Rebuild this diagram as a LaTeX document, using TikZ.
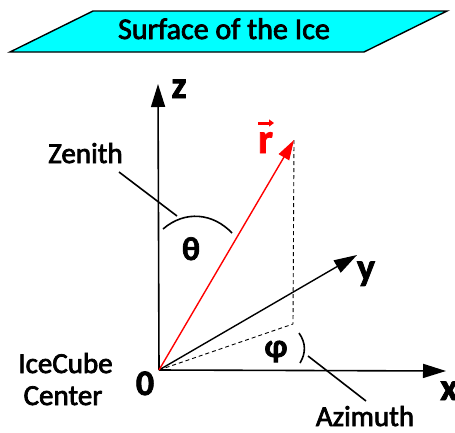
\documentclass[tikz,border=0pt]{standalone}
\usepackage{fontspec}
\setmainfont{Carlito}
\newfontfamily\heavy{Carlito}[FakeBold=2.5]
\newfontfamily\heavybf{Carlito Bold}[FakeBold=2]
\usetikzlibrary{arrows.meta}
\definecolor{icecyan}{RGB}{0,255,255}
\tikzset{
  axis/.style={line width=1.6pt,-{Triangle[length=23pt,width=14pt]}},
  rvec/.style={red,line width=1.4pt,-{Triangle[length=20pt,width=12pt]}},
  proj/.style={line width=0.9pt,dash pattern=on 4pt off 3pt},
  leader/.style={line width=1.6pt},
  lbl/.style={inner sep=0pt,anchor=base,font=\fontsize{29}{34}\selectfont\heavy},
  axlbl/.style={inner sep=0pt,anchor=base,font=\fontsize{38}{44}\selectfont\heavybf},
  greek/.style={inner sep=0pt,anchor=base,font=\fontsize{33}{38}\selectfont\heavybf},
}
\begin{document}
\begin{tikzpicture}[x=1pt,y=-1pt]
\useasboundingbox (0,0) rectangle (455,432);
% surface
\draw[line width=1.4pt,fill=icecyan] (10,52) -- (93,11) -- (447,11) -- (364,52) -- cycle;
\node[lbl,font=\fontsize{30}{36}\selectfont\heavy] (surf) at (224,39) {Surface of the Ice};
% coordinates
\coordinate (O) at (159,370);
\coordinate (ztip) at (158,84);
\coordinate (xtip) at (446,371);
\coordinate (ytip) at (357,255);
\coordinate (rtip) at (294,140);
\coordinate (foot) at (293,324);
% projections
\draw[proj] (rtip) -- (foot);
\draw[proj] (O) -- (foot);
% axes
\draw[axis] (O) -- (ztip);
\draw[axis] (O) -- (xtip);
\draw[axis,line width=1.4pt] (O) -- (ytip);
\draw[rvec] (O) -- (rtip);
% axis labels
\node[axlbl] (zl) at (179,98) {z};
\node[axlbl] (yl) at (366,280) {y};
\node[axlbl] (xl) at (449,400) {x};
\node[axlbl,font=\fontsize{36}{40}\selectfont\heavybf] (zero) at (145,395) {0};
\node[axlbl,red,font=\fontsize{42}{48}\selectfont\heavybf] (rl) at (265.5,153) {r};
\draw[red,line width=3pt,-{Triangle[length=5pt,width=7pt]}] (258,123) -- (274,123);
% zenith
\draw[leader] (163,229) .. controls (185,210) and (213,213) .. (232,233);
\node[greek] (theta) at (191,260) {θ};
\node[lbl] (zen) at (85.5,163) {Zenith};
\coordinate (zenA) at (119,172);
\coordinate (zenB) at (177,216);
\draw[leader] (zenA) -- (zenB);
% azimuth
\draw[leader] (299,333) .. controls (306,343) and (306,353) .. (300,363);
\node[greek] (phi) at (276,357) {φ};
\node[lbl] (azi) at (365,426) {Azimuth};
\coordinate (aziA) at (308,356);
\coordinate (aziB) at (366,401);
\draw[leader] (aziA) -- (aziB);
% center label
\node[lbl] (ice) at (65.5,373) {IceCube};
\node[lbl] (cen) at (63,405) {Center};
\end{tikzpicture}
\end{document}
